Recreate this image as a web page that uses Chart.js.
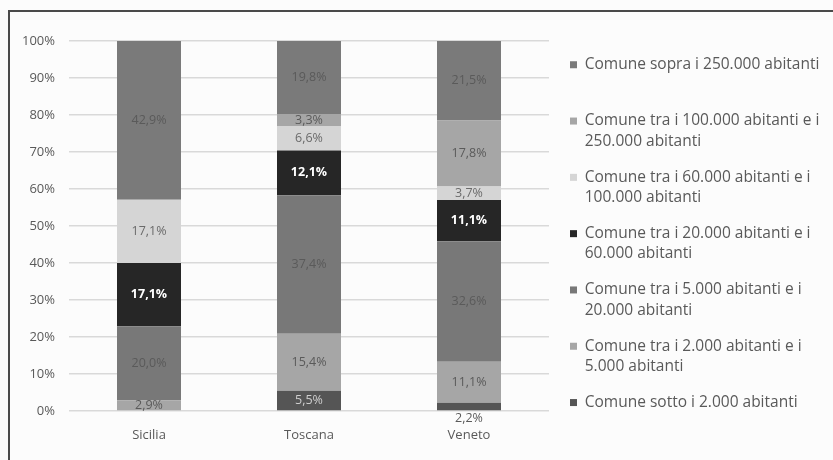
<!DOCTYPE html>
<html>
<head>
<meta charset="utf-8">
<script src="https://cdn.jsdelivr.net/npm/chart.js@4/dist/chart.umd.min.js"></script>
<style>
  html, body { margin: 0; padding: 0; background: #fcfcfc; }
  #wrap { position: relative; width: 833px; height: 460px; overflow: hidden; }
  #frame { position: absolute; left: 8px; top: 10px; right: -4px; bottom: -4px;
           border-left: 2px solid #4a4a4a; border-top: 2px solid #4a4a4a; }
  canvas { position: absolute; left: 0; top: 0; }
</style>
</head>
<body>
<div id="wrap">
  <div id="frame"></div>
  <canvas id="barChart" width="833" height="460"></canvas>
</div>
<script>
const regioni = ['Sicilia', 'Toscana', 'Veneto'];

// quote per classe di comune, dal basso verso l'alto
const sotto2000 = [0, 5.5, 2.2];
const da2000a5000 = [2.9, 15.4, 11.1];
const da5000a20000 = [20.0, 37.4, 32.6];
const da20000a60000 = [17.1, 12.1, 11.1];
const da60000a100000 = [17.1, 6.6, 3.7];
const da100000a250000 = [0, 3.3, 17.8];
const sopra250000 = [42.9, 19.8, 21.5];

const yTicks = [0, 10, 20, 30, 40, 50, 60, 70, 80, 90, 100];

// testo della legenda, già spezzato in righe
const nomiSerie = [
    ['Comune sotto i 2.000 abitanti'],
    ['Comune tra i 2.000 abitanti e i', '5.000 abitanti'],
    ['Comune tra i 5.000 abitanti e i', '20.000 abitanti'],
    ['Comune tra i 20.000 abitanti e i', '60.000 abitanti'],
    ['Comune tra i 60.000 abitanti e i', '100.000 abitanti'],
    ['Comune tra i 100.000 abitanti e i', '250.000 abitanti'],
    ['Comune sopra i 250.000 abitanti']
];

const valori = [sotto2000, da2000a5000, da5000a20000, da20000a60000,
    da60000a100000, da100000a250000, sopra250000];
const colori = ['#555555', '#a6a6a6', '#787878', '#262626', '#d5d5d5', '#a6a6a6', '#7a7a7a'];
const coloriTesto = ['#cfcfcf', '#5a5a5a', '#5a5a5a', '#ffffff', '#6a6a6a', '#5a5a5a', '#5a5a5a'];

const FONT = '"Open Sans", "Noto Sans", sans-serif';
const LARGHEZZA_LEGENDA = 284;

let datasets = [];
for (let i = 0; i < valori.length; i++) {
    datasets.push({
        label: nomiSerie[i].join(' '),
        data: valori[i],
        backgroundColor: colori[i],
        borderWidth: 0,
        categoryPercentage: 0.4,
        barPercentage: 1
    });
}

// etichette percentuali dentro ogni segmento
const etichette = {
    id: 'etichette',
    beforeLayout(chart) {
        // legenda a larghezza fissa, come nell'originale
        const lg = chart.legend;
        if (lg && !lg._fitFisso) {
            const fit = lg.fit.bind(lg);
            lg.fit = function () {
                fit();
                this.width = LARGHEZZA_LEGENDA;
            };
            lg._fitFisso = true;
        }
    },
    afterLayout(chart) {
        // un po' di stacco tra grafico e legenda
        chart.legend.left += 5;
        chart.legend.right += 5;
    },
    afterDatasetsDraw(chart) {
        const ctx = chart.ctx;
        chart.data.datasets.forEach((ds, i) => {
            const meta = chart.getDatasetMeta(i);
            meta.data.forEach((bar, j) => {
                const v = ds.data[j];
                if (!v) return;
                let y = (bar.y + bar.base) / 2;
                let colore = coloriTesto[i];
                if (v < 2.5) { // segmento troppo sottile: scrivi sotto
                    y = bar.base + 8;
                    colore = '#5a5a5a';
                }
                ctx.save();
                ctx.font = (i === 3 ? 'bold ' : '') + '12.5px ' + FONT;
                ctx.fillStyle = colore;
                ctx.textAlign = 'center';
                ctx.textBaseline = 'middle';
                ctx.fillText(v.toFixed(1).replace('.', ',') + '%', bar.x, y);
                ctx.restore();
            });
        });
    }
};

const bar = document.getElementById('barChart');

new Chart(bar, {
    type: 'bar',
    data: {
        labels: regioni,
        datasets: datasets
    },
    options: {
        responsive: false,
        animation: false,
        layout: { padding: { top: 41, bottom: 9, left: 0, right: 0 } },
        scales: {
            x: {
                stacked: true,
                grid: { display: false, drawTicks: false },
                border: { display: false },
                ticks: { color: '#595959', padding: 16, font: { family: FONT, size: 13 } },
                afterFit(scale) { scale.height = 40; }
            },
            y: {
                stacked: true,
                min: 0,
                max: 100,
                grid: { color: '#d9d9d9', lineWidth: 1.5, drawTicks: false },
                border: { display: false },
                afterBuildTicks(scale) {
                    scale.ticks = yTicks.map(v => ({ value: v }));
                },
                ticks: {
                    color: '#595959',
                    padding: 14,
                    font: { family: FONT, size: 13 },
                    callback: v => v + '%'
                },
                afterFit(scale) { scale.width = 69; }
            }
        },
        plugins: {
            tooltip: { enabled: false },
            legend: {
                position: 'right',
                align: 'start',
                reverse: true,
                labels: {
                    boxWidth: 7,
                    boxHeight: 7,
                    padding: 16,
                    color: '#595959',
                    font: { family: FONT, size: 15.5, lineHeight: 1.3 },
                    generateLabels(chart) {
                        const items = Chart.defaults.plugins.legend.labels.generateLabels(chart);
                        items.forEach(item => {
                            const righe = nomiSerie[item.datasetIndex];
                            if (item.datasetIndex === 0) {
                                item.text = righe[0];
                            } else {
                                item.text = righe.length > 1 ? righe : [righe[0], ''];
                            }
                        });
                        return items;
                    }
                }
            }
        }
    },
    plugins: [etichette]
});
</script>
</body>
</html>
